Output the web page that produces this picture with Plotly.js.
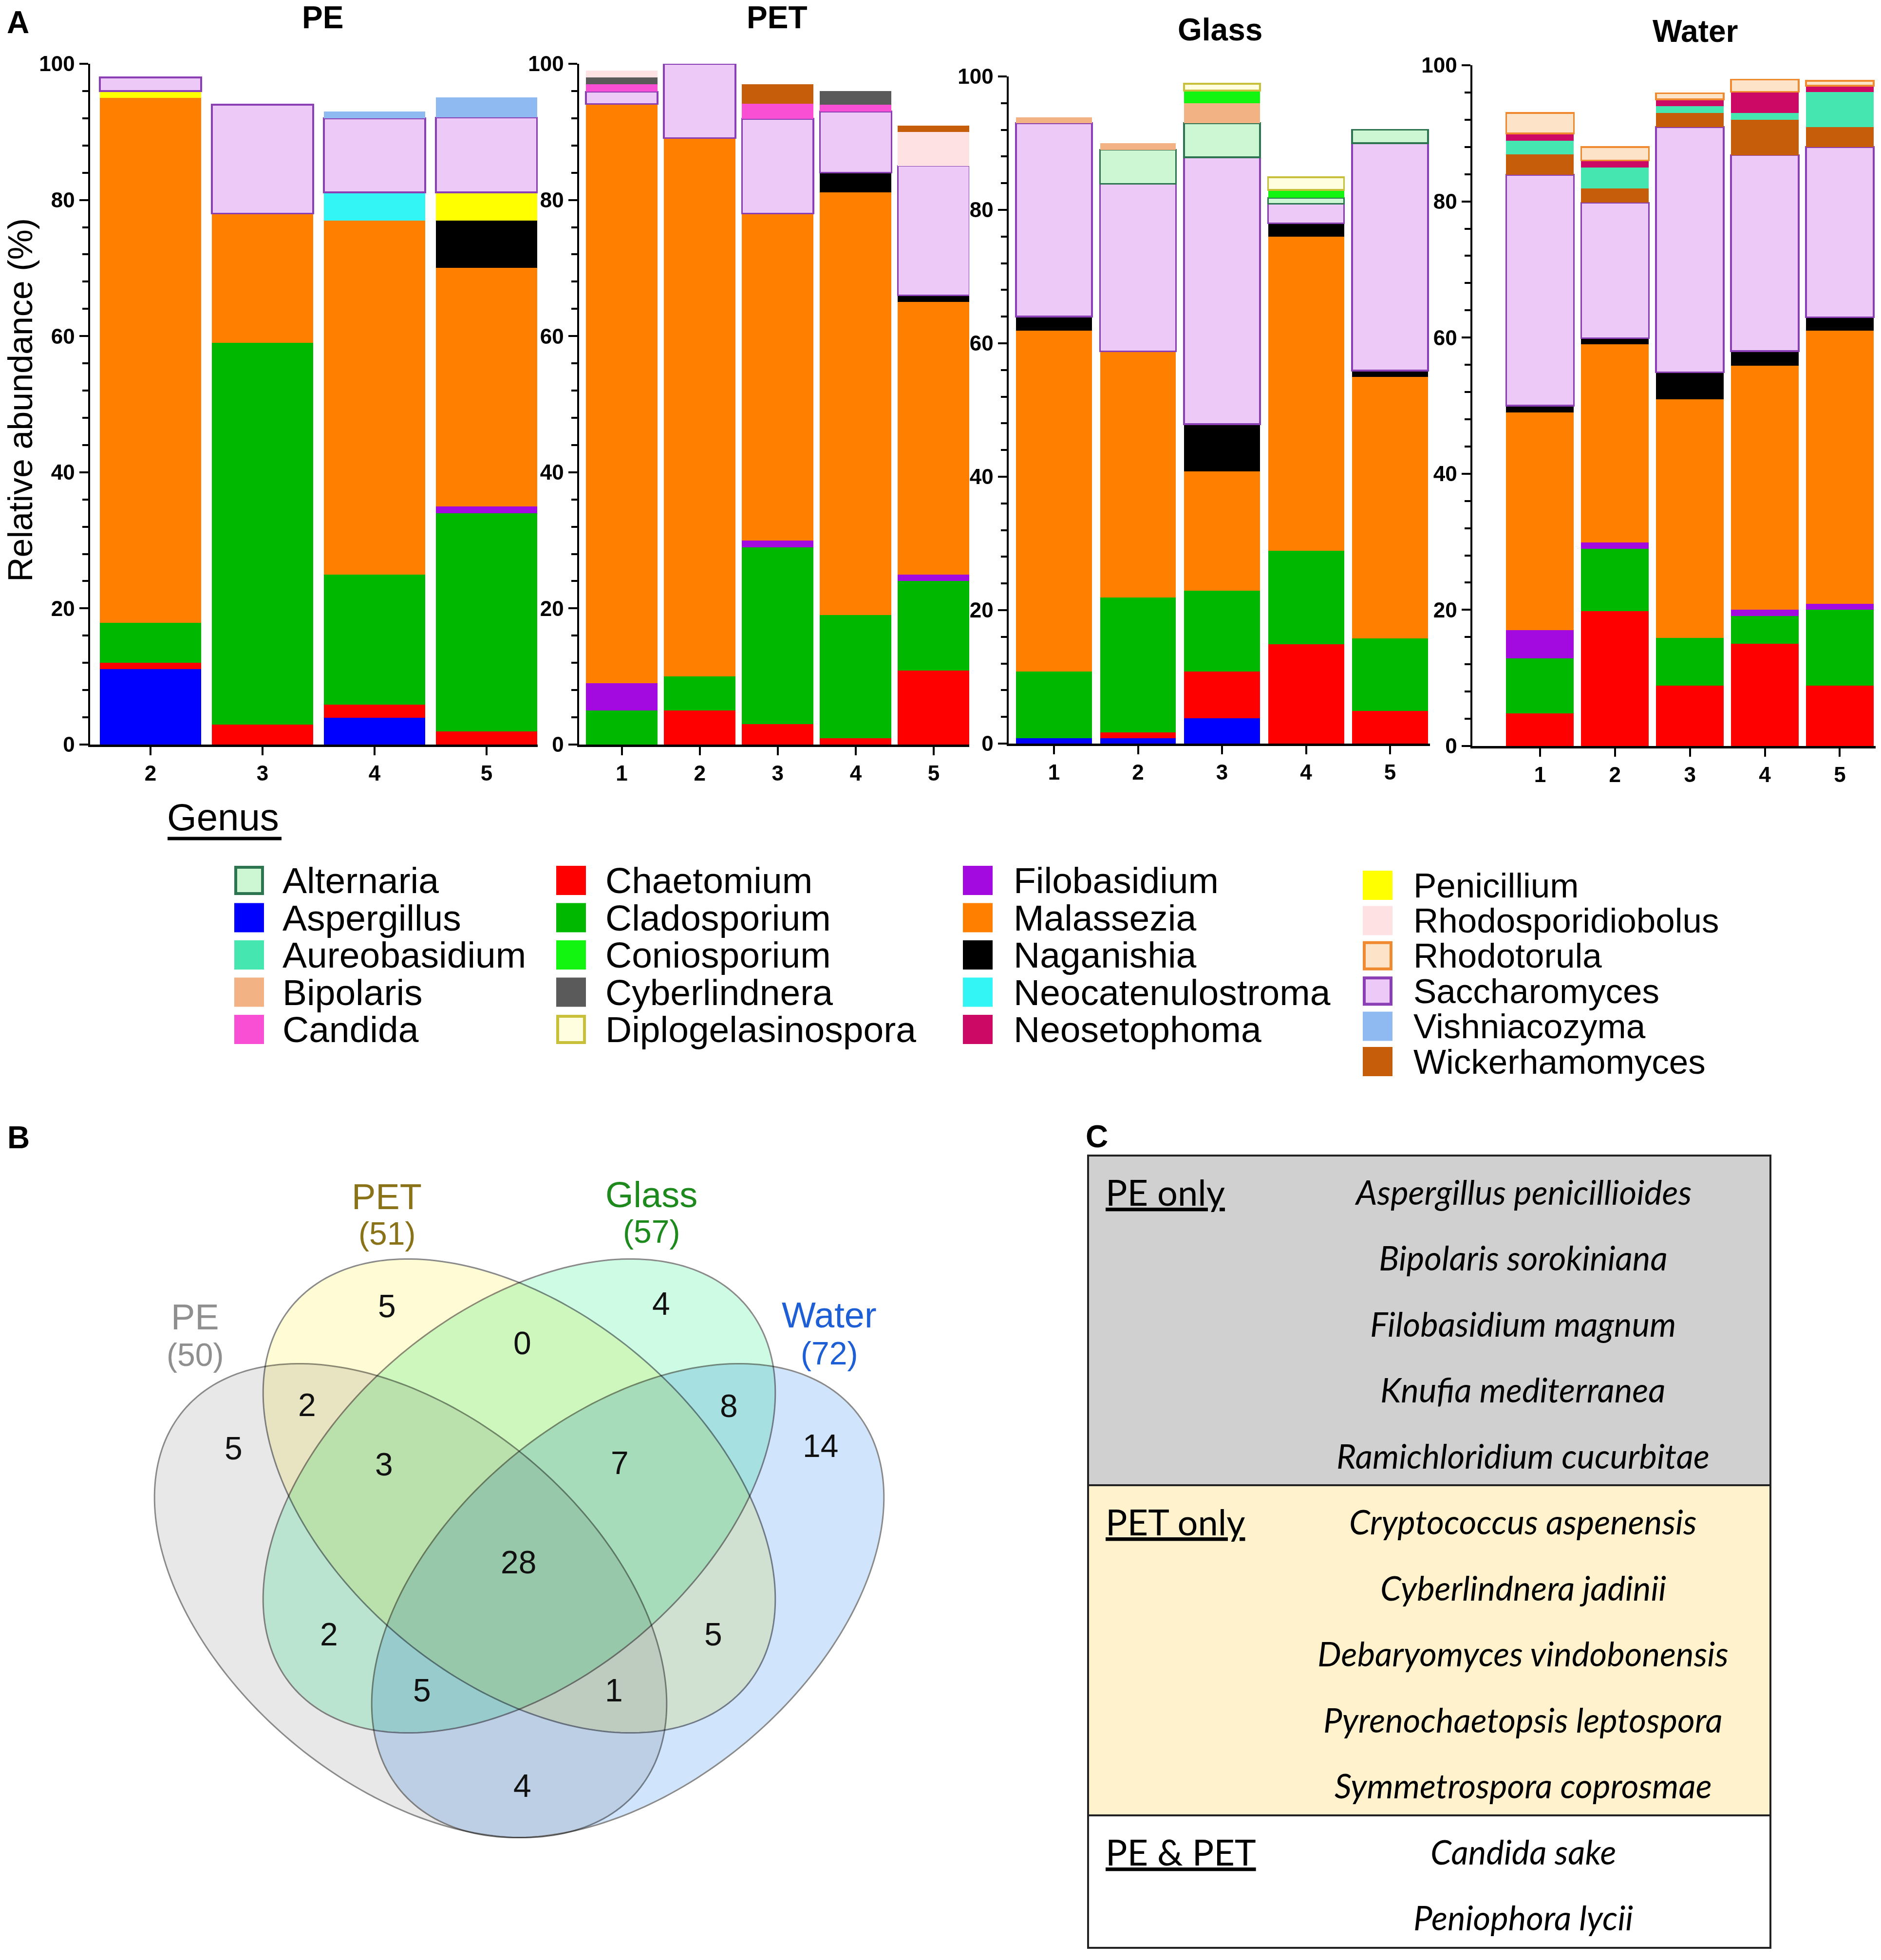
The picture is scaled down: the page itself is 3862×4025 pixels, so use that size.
<!DOCTYPE html>
<html><head><meta charset="utf-8">
<script src="https://cdn.plot.ly/plotly-3.0.1.min.js"></script>
<style>html,body{margin:0;padding:0;background:#fff}</style>
</head><body>
<div id="chart" style="width:3862px;height:4025px"></div>
<script>
const W = 3862, H = 4025;

// ---------------- DATA ----------------
// genera in stacking order (bottom -> top)
const genera = ['Aspergillus','Chaetomium','Cladosporium','Filobasidium','Malassezia','Naganishia',
  'Neocatenulostroma','Penicillium','Saccharomyces','Vishniacozyma','Alternaria','Bipolaris',
  'Coniosporium','Diplogelasinospora','Candida','Cyberlindnera','Rhodosporidiobolus',
  'Wickerhamomyces','Aureobasidium','Neosetophoma','Rhodotorula'];

const peSamples = [2, 3, 4, 5];
const petSamples = [1, 2, 3, 4, 5];
const glassSamples = [1, 2, 3, 4, 5];
const waterSamples = [1, 2, 3, 4, 5];

// relative abundance (%) ; rows follow `genera`
const peValues = [
  [11.1, 0, 3.9, 0],      // Aspergillus
  [0.9, 2.9, 2.0, 1.9],   // Chaetomium
  [5.9, 56.1, 19.1, 32.1],// Cladosporium
  [0, 0, 0, 1.0],         // Filobasidium
  [77.1, 19.0, 52.0, 35.0],// Malassezia
  [0, 0, 0, 7.0],         // Naganishia
  [0, 0, 4.1, 0],         // Neocatenulostroma
  [1.0, 0, 0, 4.1],       // Penicillium
  [2.0, 16.0, 10.9, 11.0],// Saccharomyces
  [0, 0, 1.0, 3.0],       // Vishniacozyma
  [0, 0, 0, 0], [0, 0, 0, 0], [0, 0, 0, 0], [0, 0, 0, 0],
  [0, 0, 0, 0], [0, 0, 0, 0], [0, 0, 0, 0], [0, 0, 0, 0],
  [0, 0, 0, 0], [0, 0, 0, 0], [0, 0, 0, 0]
];
const petValues = [
  [0, 0, 0, 0, 0],              // Aspergillus
  [0, 5.0, 3.0, 0.9, 10.9],     // Chaetomium
  [5.0, 5.0, 26.0, 18.1, 13.1], // Cladosporium
  [4.0, 0, 1.0, 0, 1.0],        // Filobasidium
  [85.1, 79.1, 48.0, 62.1, 40.0],// Malassezia
  [0, 0, 0, 2.9, 1.0],          // Naganishia
  [0, 0, 0, 0, 0],              // Neocatenulostroma
  [0, 0, 0, 0, 0],              // Penicillium
  [1.8, 10.9, 13.9, 9.0, 19.0], // Saccharomyces
  [0, 0, 0, 0, 0],              // Vishniacozyma
  [0, 0, 0, 0, 0],              // Alternaria
  [0, 0, 0, 0, 0],              // Bipolaris
  [0, 0, 0, 0, 0],              // Coniosporium
  [0, 0, 0, 0, 0],              // Diplogelasinospora
  [1.1, 0, 2.2, 1.0, 0],        // Candida
  [1.0, 0, 0, 2.0, 0],          // Cyberlindnera
  [1.0, 0, 0, 0, 5.0],          // Rhodosporidiobolus
  [0, 0, 2.9, 0, 0.9],          // Wickerhamomyces
  [0, 0, 0, 0, 0], [0, 0, 0, 0, 0], [0, 0, 0, 0, 0]
];
const glassValues = [
  [0.8, 0.8, 3.8, 0, 0],        // Aspergillus
  [0, 0.9, 7.0, 14.9, 4.9],     // Chaetomium
  [10.0, 20.2, 12.1, 14.0, 10.9],// Cladosporium
  [0, 0, 0, 0, 0],              // Filobasidium
  [51.1, 36.9, 17.9, 47.1, 39.2],// Malassezia
  [2.1, 0, 7.1, 2.0, 0.9],      // Naganishia
  [0, 0, 0, 0, 0],              // Neocatenulostroma
  [0, 0, 0, 0, 0],              // Penicillium
  [29.0, 25.1, 40.0, 2.9, 34.1],// Saccharomyces
  [0, 0, 0, 0, 0],              // Vishniacozyma
  [0, 5.1, 5.1, 0.9, 2.0],      // Alternaria
  [0.9, 1.0, 3.0, 0, 0],        // Bipolaris
  [0, 0, 1.9, 1.2, 0],          // Coniosporium
  [0, 0, 1.0, 1.9, 0],          // Diplogelasinospora
  [0, 0, 0, 0, 0], [0, 0, 0, 0, 0], [0, 0, 0, 0, 0], [0, 0, 0, 0, 0],
  [0, 0, 0, 0, 0], [0, 0, 0, 0, 0], [0, 0, 0, 0, 0]
];
const waterValues = [
  [0, 0, 0, 0, 0],              // Aspergillus
  [4.8, 19.8, 8.9, 15.0, 8.9],  // Chaetomium
  [8.1, 9.2, 7.0, 4.1, 11.1],   // Cladosporium
  [4.1, 0.9, 0, 0.9, 0.9],      // Filobasidium
  [32.0, 29.1, 35.0, 35.9, 40.1],// Malassezia
  [1.0, 0.9, 4.0, 2.1, 2.0],    // Naganishia
  [0, 0, 0, 0, 0],              // Neocatenulostroma
  [0, 0, 0, 0, 0],              // Penicillium
  [33.9, 19.9, 36.0, 28.8, 25.0],// Saccharomyces
  [0, 0, 0, 0, 0], [0, 0, 0, 0, 0], [0, 0, 0, 0, 0], [0, 0, 0, 0, 0],
  [0, 0, 0, 0, 0], [0, 0, 0, 0, 0], [0, 0, 0, 0, 0], [0, 0, 0, 0, 0],
  [3.0, 2.1, 2.1, 5.2, 2.9],    // Wickerhamomyces
  [2.0, 3.1, 1.0, 1.0, 5.2],    // Aureobasidium
  [1.1, 1.0, 1.0, 3.1, 0.9],    // Neosetophoma
  [3.0, 2.0, 0.9, 1.8, 0.7]     // Rhodotorula
];

const panelNames = ['PE', 'PET', 'Glass', 'Water'];
const yTicks = [0, 20, 40, 60, 80, 100];

// legend columns (alphabetical, as printed)
const legendCol1 = ['Alternaria','Aspergillus','Aureobasidium','Bipolaris','Candida'];
const legendCol2 = ['Chaetomium','Cladosporium','Coniosporium','Cyberlindnera','Diplogelasinospora'];
const legendCol3 = ['Filobasidium','Malassezia','Naganishia','Neocatenulostroma','Neosetophoma'];
const legendCol4 = ['Penicillium','Rhodosporidiobolus','Rhodotorula','Saccharomyces','Vishniacozyma','Wickerhamomyces'];

// Venn (B)
const vennSets = ['PE', 'PET', 'Glass', 'Water'];
const vennTotals = [50, 51, 57, 72];
const vennCounts = [5, 4, 5, 14, 0, 2, 8, 3, 7, 28, 2, 5, 5, 1, 4];
// regions: PET, Glass, PE, Water, PET&Glass, PE&PET, Glass&Water, PE&PET&Glass, PET&Glass&Water,
//          all, PE&Glass, PET&Water, PE&Glass&Water, PE&PET&Water, PE&Water

// Table (C)
const tableGroups = ['PE only', 'PET only', 'PE & PET'];
const tableSpecies = [
  ['Aspergillus penicillioides','Bipolaris sorokiniana','Filobasidium magnum','Knufia mediterranea','Ramichloridium cucurbitae'],
  ['Cryptococcus aspenensis','Cyberlindnera jadinii','Debaryomyces vindobonensis','Pyrenochaetopsis leptospora','Symmetrospora coprosmae'],
  ['Candida sake','Peniophora lycii']
];

// ---------------- STYLE ----------------
const fillColors = ['#0000ff','#ff0000','#00b800','#a30ae0','#ff8000','#000000','#33f5f5','#ffff00',
  '#ecc9f6','#8fb9f1','#cdf7d2','#f2b283','#11f511','#ffffe0','#f94fd4','#5a5a5a','#fde1e3',
  '#c65d0a','#45e6b0','#cc0a66','#fde3c8'];
const lineColors = {Saccharomyces:'#8a3fb5', Alternaria:'#2c7550', Diplogelasinospora:'#c8bf3a', Rhodotorula:'#f08a30'};

const SANS = 'Liberation Sans, Arial, sans-serif';
const px = v => v / W;
const py = v => 1 - v / H;

// panel geometry in pixels: [xLeft, xRight], [yTop(100), yBottom(0)]
const panelGeom = [
  {xp:[185,1104],  yp:[131,1529], range:[1.461,5.457], bw:0.904, title:[662,36]},
  {xp:[1189,1990], yp:[131,1529], range:[0.4535,5.456], bw:0.918, title:[1595,36]},
  {xp:[2071,2936], yp:[157,1527], range:[0.461,5.475], bw:0.904, title:[2505,61]},
  {xp:[3023,3851], yp:[134,1532], range:[0.097,5.478], bw:0.903, title:[3480,64]}
];
const panelSamples = [peSamples, petSamples, glassSamples, waterSamples];
const panelValues = [peValues, petValues, glassValues, waterValues];

const data = [];
const layout = {
  width: W, height: H, margin: {l:0, r:0, t:0, b:0},
  paper_bgcolor: '#fff', plot_bgcolor: 'rgba(0,0,0,0)',
  barmode: 'stack', showlegend: false,
  font: {family: SANS, color: '#000'},
  shapes: [], annotations: []
};

panelNames.forEach((name, p) => {
  const g = panelGeom[p];
  const sfx = p === 0 ? '' : String(p + 1);
  genera.forEach((gen, i) => {
    const vals = panelValues[p][i].map(v => v > 0 ? v : null);
    if (vals.every(v => v === null)) return;
    const lc = lineColors[gen];
    data.push({
      type: 'bar', name: gen, x: panelSamples[p], y: vals, width: g.bw,
      xaxis: 'x' + sfx, yaxis: 'y' + sfx,
      marker: {color: fillColors[i], line: {color: lc || fillColors[i], width: lc ? 3.5 : 0}},
      hoverinfo: 'x+y+name'
    });
  });
  const axFont = {family: SANS, size: 44, color: '#000', weight: 'bold'};
  layout['xaxis' + sfx] = {
    domain: [px(g.xp[0]), px(g.xp[1])], range: g.range, anchor: 'y' + sfx,
    tickmode: 'array', tickvals: panelSamples[p], ticktext: panelSamples[p].map(String),
    showline: true, linewidth: 4.5, linecolor: '#000', ticks: 'outside', ticklen: 17, tickwidth: 4,
    tickcolor: '#000', tickfont: axFont, showgrid: false, zeroline: false, fixedrange: true
  };
  layout['yaxis' + sfx] = {
    domain: [py(g.yp[1]), py(g.yp[0])], range: [0, 100], anchor: 'x' + sfx,
    tickmode: 'array', tickvals: yTicks, showline: true, linewidth: 4.5, linecolor: '#000',
    ticks: 'outside', ticklen: 18, tickwidth: 4, tickcolor: '#000', tickfont: axFont,
    minor: {dtick: 4, tick0: 0, ticks: 'outside', ticklen: 12, tickwidth: 4, tickcolor: '#000', showgrid: false},
    showgrid: false, zeroline: false, fixedrange: true
  };
  layout.annotations.push({
    text: '<b>' + name + '</b>', xref: 'paper', yref: 'paper', x: px(g.title[0]), y: py(g.title[1]),
    xanchor: 'center', yanchor: 'middle', showarrow: false, font: {family: SANS, size: 64, color: '#000'}
  });
});

// y axis title
layout.annotations.push({
  text: 'Relative abundance (%)', xref: 'paper', yref: 'paper', x: px(42), y: py(822),
  textangle: -90, xanchor: 'center', yanchor: 'middle', showarrow: false,
  font: {family: SANS, size: 70, color: '#000'}
});

// panel letters
[['A', 37, 46], ['B', 38, 2336], ['C', 2252, 2334]].forEach(([t, x, y]) => {
  layout.annotations.push({text: '<b>' + t + '</b>', xref: 'paper', yref: 'paper', x: px(x), y: py(y),
    xanchor: 'center', yanchor: 'middle', showarrow: false, font: {family: SANS, size: 64, color: '#000'}});
});

// ---------------- LEGEND (drawn) ----------------
layout.annotations.push({text: 'Genus', xref: 'paper', yref: 'paper', x: px(341), y: py(1678),
  xanchor: 'left', yanchor: 'middle', showarrow: false, font: {family: SANS, size: 78, color: '#000'}});
layout.shapes.push({type: 'line', xref: 'paper', yref: 'paper', x0: px(344), x1: px(578), y0: py(1722), y1: py(1722),
  line: {color: '#000', width: 7}});
const legendCols = [legendCol1, legendCol2, legendCol3, legendCol4];
const legendGeom = [
  {sx: 481, tx: 578, y0: 1808, dy: 76.5, fs: 75},
  {sx: 1142, tx: 1241, y0: 1808, dy: 76.5, fs: 75},
  {sx: 1977, tx: 2079, y0: 1808, dy: 76.5, fs: 75},
  {sx: 2798, tx: 2900, y0: 1818, dy: 72.4, fs: 71}
];
legendCols.forEach((col, c) => {
  const lg = legendGeom[c];
  col.forEach((gen, r) => {
    const i = genera.indexOf(gen);
    const yc = lg.y0 + r * lg.dy;
    const lc = lineColors[gen];
    layout.shapes.push({type: 'rect', xref: 'paper', yref: 'paper',
      x0: px(lg.sx + (lc ? 3 : 0)), x1: px(lg.sx + 61 - (lc ? 3 : 0)),
      y0: py(yc - 30 + (lc ? 3 : 0)), y1: py(yc + 30 - (lc ? 3 : 0)),
      fillcolor: fillColors[i], line: {color: lc || fillColors[i], width: lc ? 6 : 0}});
    layout.annotations.push({text: gen, xref: 'paper', yref: 'paper', x: px(lg.tx), y: py(yc),
      xanchor: 'left', yanchor: 'middle', showarrow: false, font: {family: SANS, size: lg.fs, color: '#000'}});
  });
});

// ---------------- VENN (drawn) ----------------
const vennEll = [
  {cx: 843, cy: 3287, th: Math.PI / 4, fill: '#e8e8e8'},
  {cx: 1066, cy: 3072, th: Math.PI / 4, fill: '#fffbd4'},
  {cx: 1066, cy: 3072, th: -Math.PI / 4, fill: '#cdfbe4'},
  {cx: 1289, cy: 3287, th: -Math.PI / 4, fill: '#d0e4fc'}
];
const KX = 630, KY = 583, EB = 0.627;
function ellipsePath(e) {
  let s = '';
  for (let k = 0; k <= 240; k++) {
    const t = 2 * Math.PI * k / 240;
    const u = Math.cos(t), v = EB * Math.sin(t);
    const xr = u * Math.cos(e.th) - v * Math.sin(e.th);
    const yr = u * Math.sin(e.th) + v * Math.cos(e.th);
    s += (k ? 'L' : 'M') + px(e.cx + KX * xr).toFixed(6) + ',' + py(e.cy + KY * yr).toFixed(6);
  }
  return s + 'Z';
}
const vennShapeStart = layout.shapes.length;
vennEll.forEach(e => {
  layout.shapes.push({type: 'path', xref: 'paper', yref: 'paper', path: ellipsePath(e),
    fillcolor: e.fill, line: {color: '#8a8a8a', width: 3}});
});
const vennShapeEnd = layout.shapes.length;
const vennLabelPos = [[400, 2704, 2782], [794, 2457, 2533], [1337, 2453, 2529], [1702, 2700, 2779]];
const vennLabelColors = ['#8f8f8f', '#8a7218', '#1e8a1e', '#1f5fd6'];
vennSets.forEach((s, i) => {
  const [x, y1, y2] = vennLabelPos[i];
  layout.annotations.push({text: s, xref: 'paper', yref: 'paper', x: px(x), y: py(y1), xanchor: 'center',
    yanchor: 'middle', showarrow: false, font: {family: SANS, size: 74, color: vennLabelColors[i]}});
  layout.annotations.push({text: '(' + vennTotals[i] + ')', xref: 'paper', yref: 'paper', x: px(x), y: py(y2),
    xanchor: 'center', yanchor: 'middle', showarrow: false, font: {family: SANS, size: 66, color: vennLabelColors[i]}});
});
const vennCountPos = [[794, 2682], [1357, 2677], [479, 2974], [1684, 2969], [1072, 2758], [630, 2885],
  [1496, 2887], [788, 3007], [1272, 3004], [1064, 3208], [675, 3356], [1464, 3356], [866, 3471],
  [1260, 3471], [1072, 3667]];
vennCounts.forEach((n, i) => {
  layout.annotations.push({text: String(n), xref: 'paper', yref: 'paper', x: px(vennCountPos[i][0]),
    y: py(vennCountPos[i][1]), xanchor: 'center', yanchor: 'middle', showarrow: false,
    font: {family: SANS, size: 66, color: '#111'}});
});

// ---------------- TABLE (drawn) ----------------
const TL = 2234, TR = 3635, TT = 2373, TB = 4000;
const sectionBounds = [[TT, 3050], [3050, 3728], [3728, TB]];
const sectionFill = ['#d0d0d0', '#fff2cc', '#ffffff'];
sectionBounds.forEach((b, k) => {
  layout.shapes.push({type: 'rect', xref: 'paper', yref: 'paper', x0: px(TL), x1: px(TR), y0: py(b[1]), y1: py(b[0]),
    fillcolor: sectionFill[k], line: {width: 0}});
});
[3050, 3728].forEach(y => layout.shapes.push({type: 'line', xref: 'paper', yref: 'paper', x0: px(TL), x1: px(TR),
  y0: py(y), y1: py(y), line: {color: '#222', width: 4}}));
layout.shapes.push({type: 'rect', xref: 'paper', yref: 'paper', x0: px(TL), x1: px(TR), y0: py(TB), y1: py(TT),
  line: {color: '#222', width: 4}, fillcolor: 'rgba(0,0,0,0)'});
const ROW0 = 2447, ROWDY = 135.5;
let row = 0;
const TFONT = 'Lato, Liberation Sans, sans-serif';
tableGroups.forEach((gname, k) => {
  layout.annotations.push({text: '<u>' + gname + '</u>', xref: 'paper', yref: 'paper', x: px(2268),
    y: py(ROW0 + row * ROWDY), xanchor: 'left', yanchor: 'middle', showarrow: false,
    font: {family: TFONT, size: 74, color: '#000'}});
  tableSpecies[k].forEach(sp => {
    layout.annotations.push({text: '<i>' + sp + '</i>', xref: 'paper', yref: 'paper', x: px(3127),
      y: py(ROW0 + row * ROWDY), xanchor: 'center', yanchor: 'middle', showarrow: false,
      font: {family: TFONT, size: 69, color: '#000'}});
    row++;
  });
});

Plotly.newPlot('chart', data, layout, {staticPlot: true, displayModeBar: false}).then(gd => {
  // overlapping Venn regions blend multiplicatively, as in the original figure
  gd.querySelectorAll('.shapelayer path[data-index]').forEach(el => {
    const idx = +el.getAttribute('data-index');
    if (idx >= vennShapeStart && idx < vennShapeEnd) el.style.mixBlendMode = 'multiply';
  });
});
</script>
</body></html>
